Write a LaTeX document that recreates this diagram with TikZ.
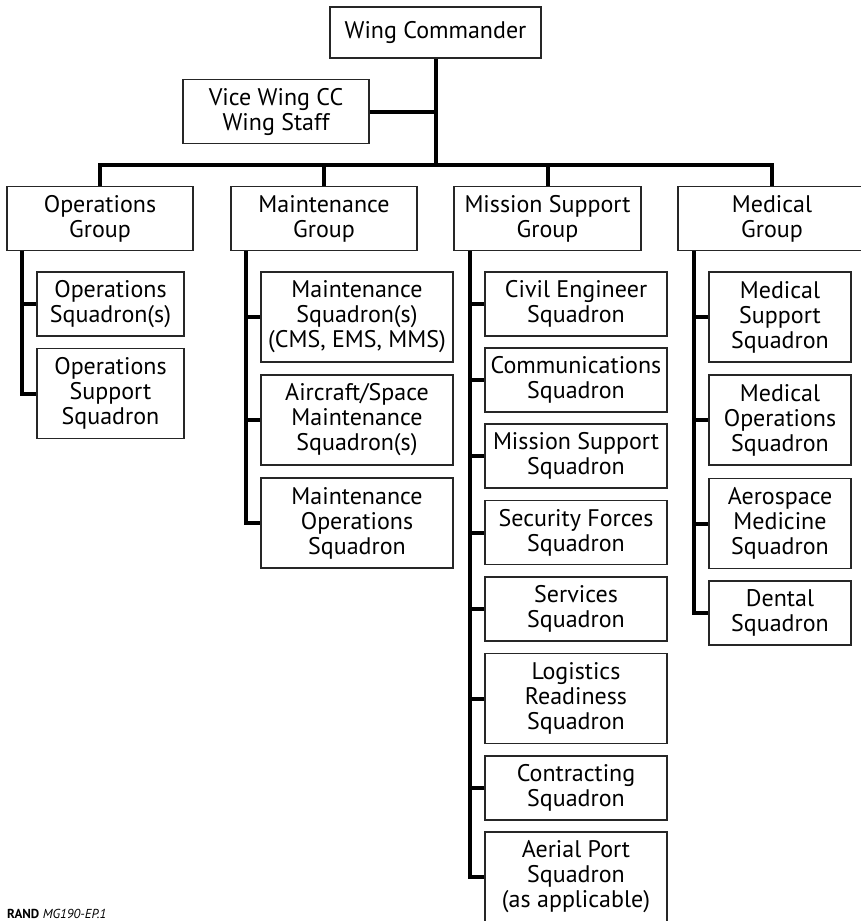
\documentclass[tikz,border=0pt]{standalone}
\usepackage{fontspec}
\setmainfont{PT Sans}
\tikzset{
  unit/.style={draw=black!85, line width=1.2pt, align=center, inner sep=0pt,
    font=\fontsize{24}{25}\selectfont},
  two/.style={unit, minimum height=64pt},
  three/.style={unit, minimum height=90pt},
  groupbox/.style={two, minimum width=186pt},
  opscol/.style={minimum width=147pt},
  maintcol/.style={minimum width=192pt},
  msgcol/.style={minimum width=182pt},
  medcol/.style={minimum width=142pt},
  link/.style={line width=4pt},
}
\begin{document}
\begin{tikzpicture}[x=1pt,y=-1pt]
\useasboundingbox (0,0) rectangle (861,921);
% top of the wing
\node[unit, minimum width=211pt, minimum height=51pt] (wc) at (435.5,32.5) {Wing Commander};
\node[groupbox] (vice) at (276,111.5) {Vice Wing CC\\Wing Staff};
\coordinate (bus) at (435.5,165);

% groups
\node[groupbox] (ops) at (100,218.5) {Operations\\Group};
\node[groupbox] (maint) at (324,218.5) {Maintenance\\Group};
\node[groupbox, minimum width=187pt] (msg) at (547.5,218.5) {Mission Support\\Group};
\node[groupbox, minimum width=188pt] (med) at (772,218.5) {Medical\\Group};

\draw[link] (wc) -- (bus); \draw[link] (vice) -- (vice -| bus);
\draw[link] (ops) |- (bus) -| (med); \draw[link] (maint) -- (maint |- bus); \draw[link] (msg) -- (msg |- bus);

% operations group
\node[two, opscol] (opssq) at (110.5,304) {Operations\\Squadron(s)};
\node[three, opscol] (opssup) at (110.5,393.5) {Operations\\Support\\Squadron};
\coordinate (opsrail) at ([xshift=-78pt]ops.south);
\draw[link] (opsrail) |- (opssup.west); \draw[link] (opssq.west) -- (opssq.west -| opsrail);

% maintenance group
\node[three, maintcol] (mxsq) at (357,317) {Maintenance\\Squadron(s)\\(CMS, EMS, MMS)};
\node[three, maintcol] (amxs) at (357,420) {Aircraft/Space\\Maintenance\\Squadron(s)};
\node[three, maintcol] (mos) at (357,523) {Maintenance\\Operations\\Squadron};
\coordinate (maintrail) at ([xshift=-78pt]maint.south);
\draw[link] (maintrail) |- (mos.west);
\draw[link] (mxsq.west) -- (mxsq.west -| maintrail); \draw[link] (amxs.west) -- (amxs.west -| maintrail);

% mission support group
\node[two, msgcol] (ces) at (576,304) {Civil Engineer\\Squadron};
\node[two, msgcol] (cs) at (576,380) {Communications\\Squadron};
\node[two, msgcol] (mss) at (576,456) {Mission Support\\Squadron};
\node[two, msgcol] (sfs) at (576,532.5) {Security Forces\\Squadron};
\node[two, msgcol] (svs) at (576,609) {Services\\Squadron};
\node[three, msgcol] (lrs) at (576,698.5) {Logistics\\Readiness\\Squadron};
\node[two, msgcol] (cons) at (576,788) {Contracting\\Squadron};
\node[three, msgcol] (aps) at (576,877) {Aerial Port\\Squadron\\(as applicable)};
\coordinate (msgrail) at ([xshift=-78pt]msg.south);
\draw[link] (msgrail) |- (aps.west);
\draw[link] (ces.west) -- (ces.west -| msgrail); \draw[link] (cs.west) -- (cs.west -| msgrail);
\draw[link] (mss.west) -- (mss.west -| msgrail); \draw[link] (sfs.west) -- (sfs.west -| msgrail);
\draw[link] (svs.west) -- (svs.west -| msgrail); \draw[link] (lrs.west) -- (lrs.west -| msgrail);
\draw[link] (cons.west) -- (cons.west -| msgrail);

% medical group
\node[three, medcol] (mdss) at (780,317) {Medical\\Support\\Squadron};
\node[three, medcol] (mdos) at (780,420) {Medical\\Operations\\Squadron};
\node[three, medcol] (amds) at (780,523.5) {Aerospace\\Medicine\\Squadron};
\node[two, medcol] (ds) at (780,613) {Dental\\Squadron};
\coordinate (medrail) at ([xshift=-78pt]med.south);
\draw[link] (medrail) |- (ds.west);
\draw[link] (mdss.west) -- (mdss.west -| medrail); \draw[link] (mdos.west) -- (mdos.west -| medrail);
\draw[link] (amds.west) -- (amds.west -| medrail);

\node[anchor=base west, inner sep=0pt, font=\fontsize{13}{15}\selectfont] (credit) at (7,918) {\textbf{RAND} \textit{MG190-EP.1}};
\end{tikzpicture}
\end{document}
